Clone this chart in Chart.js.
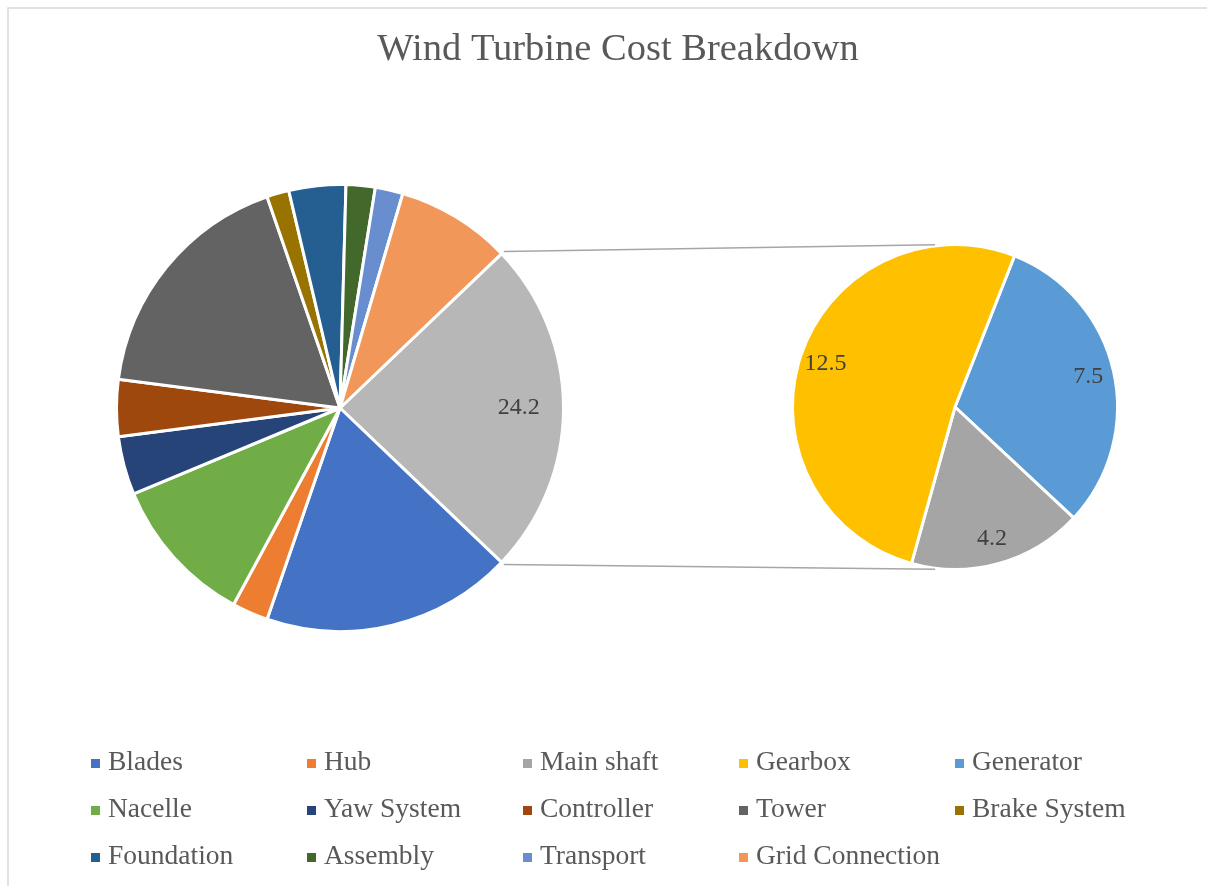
<!DOCTYPE html>
<html>
<head>
<meta charset="utf-8">
<title>Wind Turbine Cost Breakdown</title>
<script src="https://cdn.jsdelivr.net/npm/chart.js@4.4.1/dist/chart.umd.min.js"></script>
<style>
  html, body { margin: 0; padding: 0; background: #fff; }
  #wrap { position: relative; width: 1207px; height: 886px; }
  #wrap canvas { position: absolute; left: 0; top: 0; }
</style>
</head>
<body>
<div id="wrap">
  <canvas id="mainPie" width="1207" height="886"></canvas>
  <canvas id="subPie" width="1207" height="886"></canvas>
</div>
<script>
// cost share per component (%)
const categories = ['Blades', 'Hub', 'Main shaft', 'Gearbox', 'Generator',
  'Nacelle', 'Yaw System', 'Controller', 'Tower', 'Brake System',
  'Foundation', 'Assembly', 'Transport', 'Grid Connection'];
const costs = [18.1, 2.6, 4.2, 12.5, 7.5, 10.8, 4.2, 4.1, 17.6, 1.6, 4.1, 2.1, 2.0, 8.3];
const sliceColors = ['#4472C4', '#ED7D31', '#A5A5A5', '#FFC000', '#5B9BD5',
  '#70AD47', '#264478', '#9E480E', '#636363', '#997300',
  '#255E91', '#43682B', '#698ED0', '#F1975A'];

// drivetrain parts pulled out into the small pie, clockwise order
const splitNames = ['Generator', 'Main shaft', 'Gearbox'];
const otherLabel = 'Other';
const otherColor = '#B7B7B7';

const FONT = "'Liberation Serif', 'Times New Roman', serif";

function valueOf(name) { return costs[categories.indexOf(name)]; }
function colorOf(name) { return sliceColors[categories.indexOf(name)]; }

// main pie: combined slice first, then everything else in order
const restNames = categories.filter(n => !splitNames.includes(n));
const otherValue = Math.round(splitNames.reduce((s, n) => s + valueOf(n), 0) * 10) / 10;
const mainLabels = [otherLabel].concat(restNames);
const mainValues = [otherValue].concat(restNames.map(valueOf));
const mainColors = [otherColor].concat(restNames.map(colorOf));

const subValues = splitNames.map(valueOf);
const subColors = splitNames.map(colorOf);

// centre the combined slice on 3 o'clock
const mainTotal = mainValues.reduce((a, b) => a + b, 0);
const mainRotation = 90 - (otherValue / mainTotal) * 180;

// value labels inside the slices
const sliceLabels = {
  id: 'sliceLabels',
  afterDatasetsDraw(chart, args, opts) {
    const ctx = chart.ctx;
    const meta = chart.getDatasetMeta(0);
    const values = chart.data.datasets[0].data;
    ctx.save();
    ctx.font = '24px ' + FONT;
    ctx.fillStyle = '#404040';
    ctx.textAlign = 'center';
    ctx.textBaseline = 'middle';
    meta.data.forEach((arc, i) => {
      if (!opts.show.includes(i)) return;
      const mid = (arc.startAngle + arc.endAngle) / 2;
      const r = arc.outerRadius * opts.pos;
      ctx.fillText(values[i].toFixed(1), arc.x + Math.cos(mid) * r, arc.y + Math.sin(mid) * r);
    });
    ctx.restore();
  }
};

// white background, frame, title and legend
const frame = {
  id: 'frame',
  beforeDraw(chart) {
    const ctx = chart.ctx;
    ctx.save();
    ctx.fillStyle = '#fff';
    ctx.fillRect(0, 0, chart.width, chart.height);
    ctx.strokeStyle = '#D9D9D9';
    ctx.lineWidth = 1.5;
    ctx.beginPath();
    ctx.moveTo(8, chart.height);
    ctx.lineTo(8, 8);
    ctx.lineTo(chart.width, 8);
    ctx.stroke();
    ctx.restore();
  },
  afterDraw(chart) {
    const ctx = chart.ctx;
    ctx.save();
    ctx.fillStyle = '#595959';
    ctx.font = '38.5px ' + FONT;
    ctx.textAlign = 'center';
    ctx.textBaseline = 'middle';
    ctx.fillText('Wind Turbine Cost Breakdown', 618, 50);

    ctx.font = '27.5px ' + FONT;
    ctx.textAlign = 'left';
    categories.forEach((name, i) => {
      const col = i % 5;
      const row = Math.floor(i / 5);
      const x = 91 + col * 216;
      const y = 763 + row * 47;
      ctx.fillStyle = sliceColors[i];
      ctx.fillRect(x, y - 4, 9, 9);
      ctx.fillStyle = '#595959';
      ctx.fillText(name, x + 17, y);
    });
    ctx.restore();
  }
};

const mainChart = new Chart(document.getElementById('mainPie'), {
  type: 'pie',
  data: {
    labels: mainLabels,
    datasets: [{
      data: mainValues,
      backgroundColor: mainColors,
      borderColor: '#fff',
      borderWidth: 3
    }]
  },
  options: {
    responsive: false,
    animation: false,
    rotation: mainRotation,
    layout: { padding: { left: 115, top: 183, right: 642, bottom: 253 } },
    plugins: {
      legend: { display: false },
      tooltip: { enabled: false },
      sliceLabels: { show: [0], pos: 0.8 }
    }
  },
  plugins: [frame, sliceLabels]
});

// lines from the combined slice to the small pie
const connectors = {
  id: 'connectors',
  afterDraw(chart) {
    const other = mainChart.getDatasetMeta(0).data[0];
    const sub = chart.getDatasetMeta(0).data[0];
    const r1 = other.outerRadius + 3;
    const r2 = sub.outerRadius + 1;
    const ends = [
      [other.startAngle, -97 * Math.PI / 180],
      [other.endAngle, 97 * Math.PI / 180]
    ];
    const ctx = chart.ctx;
    ctx.save();
    ctx.strokeStyle = '#A6A6A6';
    ctx.lineWidth = 1.5;
    ends.forEach(([a1, a2]) => {
      ctx.beginPath();
      ctx.moveTo(other.x + Math.cos(a1) * r1, other.y + Math.sin(a1) * r1);
      ctx.lineTo(sub.x + Math.cos(a2) * r2, sub.y + Math.sin(a2) * r2);
      ctx.stroke();
    });
    ctx.restore();
  }
};

new Chart(document.getElementById('subPie'), {
  type: 'pie',
  data: {
    labels: splitNames,
    datasets: [{
      data: subValues,
      backgroundColor: subColors,
      borderColor: '#fff',
      borderWidth: 3
    }]
  },
  options: {
    responsive: false,
    animation: false,
    rotation: 21.5,
    layout: { padding: { left: 791, top: 243, right: 88, bottom: 315 } },
    plugins: {
      legend: { display: false },
      tooltip: { enabled: false },
      sliceLabels: { show: [0, 1, 2], pos: 0.84 }
    }
  },
  plugins: [connectors, sliceLabels]
});
</script>
</body>
</html>
